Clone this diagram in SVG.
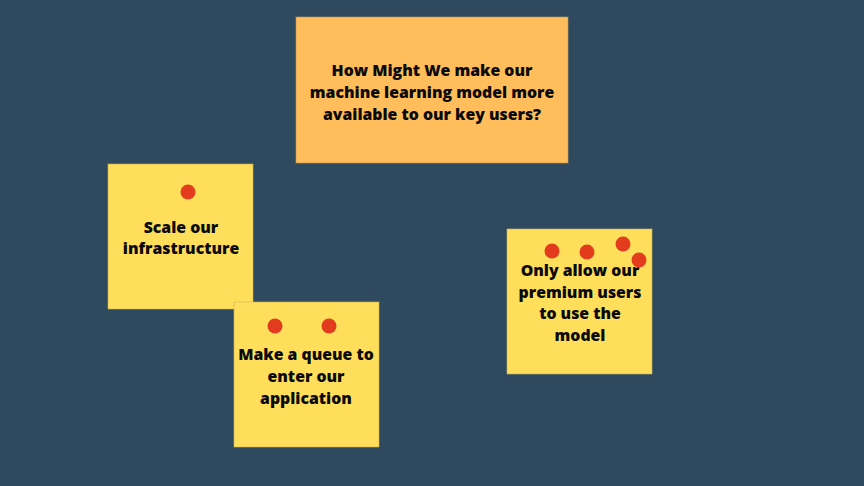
<svg xmlns="http://www.w3.org/2000/svg" width="864" height="486" viewBox="0 0 864 486">
<style>
.t{font-family:"Open Sans","Noto Sans","Liberation Sans",sans-serif;font-weight:800;font-size:15.8px;fill:#0a0a0a;text-anchor:middle;dominant-baseline:central}
.y{fill:#FFDE5C;stroke:#C9B35A;stroke-width:0.6}
.o{fill:#FFBD5B;stroke:#C99A55;stroke-width:0.6}
.d{fill:#E23B1E}
</style>
<rect width="864" height="486" fill="#2F4A5F"/>
<g id="hmw">
<rect class="o" x="296" y="17" width="272" height="146"/>
<text class="t" x="432" y="70">How Might We make our</text>
<text class="t" x="432" y="92">machine learning model more</text>
<text class="t" x="432" y="114">available to our key users?</text>
</g>
<g id="scale">
<rect class="y" x="108" y="164" width="145" height="145"/>
<circle class="d" cx="188" cy="192" r="7.5"/>
<text class="t" x="181" y="227">Scale our</text>
<text class="t" x="181" y="248">infrastructure</text>
</g>
<g id="queue">
<rect class="y" x="234" y="302" width="145" height="145"/>
<circle class="d" cx="275" cy="326" r="7.5"/>
<circle class="d" cx="329" cy="326" r="7.5"/>
<text class="t" x="306" y="354">Make a queue to</text>
<text class="t" x="306" y="376">enter our</text>
<text class="t" x="306" y="398">application</text>
</g>
<g id="premium">
<rect class="y" x="507" y="229" width="145" height="145"/>
<text class="t" x="580" y="270">Only allow our</text>
<text class="t" x="580" y="292">premium users</text>
<text class="t" x="580" y="313">to use the</text>
<text class="t" x="580" y="335">model</text>
<circle class="d" cx="552" cy="251" r="7.5"/>
<circle class="d" cx="587" cy="252" r="7.5"/>
<circle class="d" cx="623" cy="244" r="7.5"/>
<circle class="d" cx="639" cy="260" r="7.5"/>
</g>
<g id="connectors"></g>
</svg>
